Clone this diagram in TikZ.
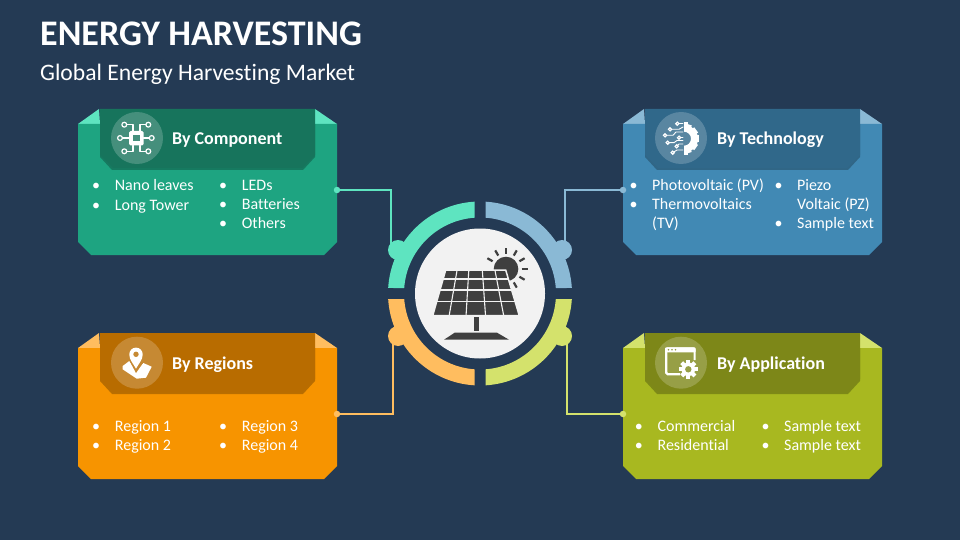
\documentclass[tikz,border=0pt]{standalone}
\usepackage{fontspec}
\setmainfont{Carlito}[Ligatures=CommonOff]
\usetikzlibrary{calc}
\definecolor{bgblue}{HTML}{243A54}
\definecolor{tealbody}{HTML}{1EA481}
\definecolor{tealhead}{HTML}{17745C}
\definecolor{teallight}{HTML}{5EE4C0}
\definecolor{bluebody}{HTML}{4189B4}
\definecolor{bluehead}{HTML}{30688A}
\definecolor{bluelight}{HTML}{8AB9D5}
\definecolor{orangebody}{HTML}{F79400}
\definecolor{orangehead}{HTML}{B86C00}
\definecolor{orangelight}{HTML}{FFBD5F}
\definecolor{greenbody}{HTML}{A8B820}
\definecolor{greenhead}{HTML}{7D8718}
\definecolor{greenlight}{HTML}{D4E26C}
\definecolor{paneldark}{HTML}{3F3F3F}
\definecolor{discwhite}{HTML}{F2F2F2}
\newcommand{\bul}{\makebox[22.7pt][l]{•}}
\begin{document}
\begin{tikzpicture}[x=1pt,y=-1pt,
	bigtitle/.style={anchor=base west,inner sep=0,text=white,font=\fontsize{36}{40}\selectfont\bfseries},
	subtitle/.style={anchor=base west,inner sep=0,text=white,font=\fontsize{23.6}{27}\selectfont},
	headtext/.style={anchor=base west,inner sep=0,text=white,font=\fontsize{18}{22}\selectfont\bfseries},
	item/.style={anchor=base west,inner sep=0,text=white,font=\fontsize{16}{19}\selectfont},
	conn/.style={line width=1.6pt},
	bump/.style={circle,minimum size=20pt,inner sep=0},
	enddot/.style={circle,minimum size=6.5pt,inner sep=0},
	iconline/.style={draw=white,line width=1.3pt,line cap=round,line join=round},
	tinyring/.style={draw=white,line width=1.2pt},
	ray/.style={draw=paneldark,line width=2.2pt}]
	\path[use as bounding box,fill=bgblue] (0,0) rectangle (960,540);

	%Titles
	\node[bigtitle] (maintitle) at (40,45.5) {ENERGY HARVESTING};
	\node[subtitle] (subhead) at (40,80.5) {Global Energy Harvesting Market};

	%Connectors
	\coordinate (compjoin) at (391,250);
	\coordinate (techjoin) at (565,250);
	\coordinate (regjoin) at (393,336);
	\coordinate (appjoin) at (567,336);
	\coordinate (compend) at (337,190);
	\coordinate (techend) at (623,190);
	\coordinate (regend) at (337,414);
	\coordinate (append) at (623,414);
	\draw[conn,teallight] (compend) -| (compjoin);
	\draw[conn,bluelight] (techend) -| (techjoin);
	\draw[conn,orangelight] (regend) -| (regjoin);
	\draw[conn,greenlight] (append) -| (appjoin);

	%Top left card
	\begin{scope}[shift={(0,0)}]
		\fill[teallight] (78,124) -- (99,109) -- (100,124) -- cycle;
		\fill[teallight] (315,109) -- (337,124) -- (315,124) -- cycle;
		\fill[tealbody] (78,124) -- (337,124) -- (337,242) -- (324,255) -- (91,255) -- (78,242) -- cycle;
		\fill[black,opacity=.25] (100,124) -- (315,124) -- (315,157) -- (303,170) -- (112,170) -- (100,157) -- cycle;
		\fill[tealhead] (100,109) -- (315,109) -- (315,155) -- (302,168) -- (113,168) -- (100,155) -- cycle;
	\end{scope}
	%Top right card
	\begin{scope}[shift={(545,0)}]
		\fill[bluelight] (78,124) -- (99,109) -- (100,124) -- cycle;
		\fill[bluelight] (315,109) -- (337,124) -- (315,124) -- cycle;
		\fill[bluebody] (78,124) -- (337,124) -- (337,242) -- (324,255) -- (91,255) -- (78,242) -- cycle;
		\fill[black,opacity=.25] (100,124) -- (315,124) -- (315,157) -- (303,170) -- (112,170) -- (100,157) -- cycle;
		\fill[bluehead] (100,109) -- (315,109) -- (315,155) -- (302,168) -- (113,168) -- (100,155) -- cycle;
	\end{scope}
	%Bottom left card
	\begin{scope}[shift={(0,224)}]
		\fill[orangelight] (78,124) -- (99,109) -- (100,124) -- cycle;
		\fill[orangelight] (315,109) -- (337,124) -- (315,124) -- cycle;
		\fill[orangebody] (78,124) -- (337,124) -- (337,242) -- (324,255) -- (91,255) -- (78,242) -- cycle;
		\fill[black,opacity=.25] (100,124) -- (315,124) -- (315,157) -- (303,170) -- (112,170) -- (100,157) -- cycle;
		\fill[orangehead] (100,109) -- (315,109) -- (315,155) -- (302,168) -- (113,168) -- (100,155) -- cycle;
	\end{scope}
	%Bottom right card
	\begin{scope}[shift={(545,224)}]
		\fill[greenlight] (78,124) -- (99,109) -- (100,124) -- cycle;
		\fill[greenlight] (315,109) -- (337,124) -- (315,124) -- cycle;
		\fill[greenbody] (78,124) -- (337,124) -- (337,242) -- (324,255) -- (91,255) -- (78,242) -- cycle;
		\fill[black,opacity=.25] (100,124) -- (315,124) -- (315,157) -- (303,170) -- (112,170) -- (100,157) -- cycle;
		\fill[greenhead] (100,109) -- (315,109) -- (315,155) -- (302,168) -- (113,168) -- (100,155) -- cycle;
	\end{scope}

	%Connector ends on the cards
	\node[enddot,fill=teallight] (compdot) at (compend) {};
	\node[enddot,fill=bluelight] (techdot) at (techend) {};
	\node[enddot,fill=orangelight] (regdot) at (regend) {};
	\node[enddot,fill=greenlight] (appdot) at (append) {};

	%Ring (y runs downwards, so angles count clockwise)
	\coordinate (ringc) at (480,293.5);
	\fill[teallight] ($(ringc)+(-93.43:92)$) arc (-93.43:-176.57:92) -- ($(ringc)+(-175.85:76)$) arc (-175.85:-94.15:76) -- cycle;
	\fill[bluelight] ($(ringc)+(-86.57:92)$) arc (-86.57:-3.43:92) -- ($(ringc)+(-4.15:76)$) arc (-4.15:-85.85:76) -- cycle;
	\fill[orangelight] ($(ringc)+(93.43:92)$) arc (93.43:176.57:92) -- ($(ringc)+(175.85:76)$) arc (175.85:94.15:76) -- cycle;
	\fill[greenlight] ($(ringc)+(86.57:92)$) arc (86.57:3.43:92) -- ($(ringc)+(4.15:76)$) arc (4.15:85.85:76) -- cycle;
	\node[bump,fill=teallight] (compbump) at (398,250) {};
	\node[bump,fill=bluelight] (techbump) at (562,250) {};
	\node[bump,fill=orangelight] (regbump) at (398,336) {};
	\node[bump,fill=greenlight] (appbump) at (562,336) {};

	%Solar panel
	\fill[discwhite] (ringc) circle (65);
	\fill[paneldark] (506,269) circle (12.3);
	\draw[ray] (506,269) ++(-30:15.5) -- ++(-30:6);
	\draw[ray] (506,269) ++(0:15.5) -- ++(0:6);
	\draw[ray] (506,269) ++(30:15.5) -- ++(30:6);
	\draw[ray] (506,269) ++(60:15.5) -- ++(60:6);
	\draw[ray] (506,269) ++(-60:15.5) -- ++(-60:6);
	\draw[ray] (506,269) ++(-90:15.5) -- ++(-90:6);
	\draw[ray] (506,269) ++(-120:15.5) -- ++(-120:6);
	\draw[ray] (506,269) ++(-150:15.5) -- ++(-150:6);
	\coordinate (paneltl) at (445.7,270);
	\coordinate (paneltr) at (505.7,270);
	\coordinate (panelbr) at (519.3,315.7);
	\coordinate (panelbl) at (432.7,315.7);
	\filldraw[fill=paneldark,draw=discwhite,line width=1.5pt] (paneltl) -- (paneltr) -- (panelbr) -- (panelbl) -- cycle;
	\foreach \t in {.197,.438,.693}
		\draw[discwhite,line width=1.1pt] ($(paneltl)!\t!(panelbl)$) -- ($(paneltr)!\t!(panelbr)$);
	\foreach \t in {.19,.385,.61,.82}
		\draw[discwhite,line width=1.1pt] ($(paneltl)!\t!(paneltr)$) -- ($(panelbl)!\t!(panelbr)$);
	\fill[paneldark] (474,317) rectangle (478.7,330.7);
	\fill[paneldark] (455,332.5) -- (496.7,332.5) -- (509,339.7) -- (444,339.7) -- cycle;

	%Head discs
	\fill[white,opacity=.2] (137,138) circle (26);
	\fill[white,opacity=.2] (681,138) circle (26);
	\fill[white,opacity=.2] (137,362.7) circle (26);
	\fill[white,opacity=.2] (681,362.7) circle (26);

	%Chip icon
	\fill[white,rounded corners=1.5pt] (129,131) rectangle (143.5,145.5);
	\fill[tealhead!80!white] (133,135) rectangle (139.5,141.5);
	\draw[iconline] (133,131) |- (126.5,124.7);
	\draw[iconline] (140,131) |- (146,124.7);
	\draw[iconline] (129,138) -- (122.5,138);
	\draw[iconline] (143.5,138) -- (149.5,138);
	\draw[iconline] (133,145.5) |- (126.5,151.3);
	\draw[iconline] (140,145.5) |- (146,151.3);
	\draw[tinyring] (124.3,124.7) circle (2.4);
	\draw[tinyring] (148.3,124.7) circle (2.4);
	\draw[tinyring] (120,138) circle (2.4);
	\draw[tinyring] (151.7,138) circle (2.4);
	\draw[tinyring] (124.3,151.3) circle (2.4);
	\draw[tinyring] (148.3,151.3) circle (2.4);

	%Gear and circuit icon
	\foreach \a in {-72,-36,0,36,72}
		\fill[white,rotate around={\a:(684,138.7)}] (696,135.5) rectangle (699,142);
	\fill[white] (684,124.7) arc (-90:90:14) -- (684,145.7) arc (90:-90:7) -- cycle;
	\fill[white] (684,122) rectangle (687.5,126);
	\fill[white] (684,151.5) rectangle (687.5,155);
	\draw[iconline,line width=.9pt] (677.3,123.7) -- (683,123.7);
	\draw[iconline,line width=.9pt] (670,129.3) -- (679,129.3) -- (683,127);
	\draw[iconline,line width=.9pt] (665,135.3) -- (673,135.3) -- (676,132) -- (683,132);
	\draw[iconline,line width=.9pt] (679,137.7) -- (683,137.7);
	\draw[iconline,line width=.9pt] (667.7,142.7) -- (674,142.7) -- (677,140.5) -- (683,140.5);
	\draw[iconline,line width=.9pt] (676.7,146.3) -- (679,144) -- (683,144);
	\draw[iconline,line width=.9pt] (672.7,152.7) -- (677,150) -- (683,150);
	\draw[tinyring,fill=bluehead!80!white] (677.3,123.7) circle (1.6);
	\draw[tinyring,fill=bluehead!80!white] (670,129.3) circle (1.6);
	\draw[tinyring,fill=bluehead!80!white] (665,135.3) circle (1.6);
	\draw[tinyring,fill=bluehead!80!white] (679,137.7) circle (1.6);
	\draw[tinyring,fill=bluehead!80!white] (667.7,142.7) circle (1.6);
	\draw[tinyring,fill=bluehead!80!white] (676.7,146.3) circle (1.6);
	\draw[tinyring,fill=bluehead!80!white] (672.7,152.7) circle (1.6);

	%Location icon
	\fill[white] (122.7,366) -- (129.3,361) -- (136,371) -- (143.3,363) -- (151.7,366.7) -- (146,377.7) -- (136.7,378.7) -- (122.7,369.3) -- cycle;
	\fill[orangehead!80!white] (128,358) -- (136,373) -- (145,360) -- cycle;
	\fill[white] (136,368.7) .. controls (133,363) and (129.3,360) .. (129.3,354.3) arc (180:360:6.7) .. controls (142.7,360) and (139,363) .. (136,368.7) -- cycle;
	\fill[orangehead!80!white] (136,354.3) circle (2.7);

	%Window icon
	\draw[white,line width=2.2pt,rounded corners=1.5pt] (694.6,360) -- (694.6,348.5) -- (666.2,348.5) -- (666.2,374.2) -- (680,374.2);
	\fill[white,rounded corners=1pt] (665,347.3) rectangle (695.7,352.3);
	\fill[greenhead!80!white] (668.5,349.8) circle (.9) (672,349.8) circle (.9) (675.5,349.8) circle (.9);
	\foreach \a in {0,45,...,315}
		\fill[white,rotate around={\a:(688.3,369.3)}] (686.2,360) rectangle (690.4,364);
	\fill[white] (688.3,369.3) circle (6.8);
	\fill[greenhead!80!white] (688.3,369.3) circle (3.2);

	%Head labels
	\node[headtext] (comphead) at (172,145) {By Component};
	\node[headtext] (techhead) at (717,145) {By Technology};
	\node[headtext] (reghead) at (172,369) {By Regions};
	\node[headtext] (apphead) at (717,369) {By Application};

	%Top left list
	\node[item] (nano) at (92,190.5) {\bul Nano leaves};
	\node[item] (tower) at (92,210) {\bul Long Tower};
	\node[item] (leds) at (219,190) {\bul LEDs};
	\node[item] (batt) at (219,209.5) {\bul Batteries};
	\node[item] (others) at (219,228.5) {\bul Others};
	%Top right list
	\node[item] (pv) at (629.3,190) {\bul Photovoltaic (PV)};
	\node[item] (thermo) at (629.3,209.5) {\bul Thermovoltaics};
	\node[item] (tv) at (652,228.5) {(TV)};
	\node[item] (piezo) at (774.3,190) {\bul Piezo};
	\node[item] (pz) at (797,209.5) {Voltaic (PZ)};
	\node[item] (sample) at (774.3,228.5) {\bul Sample text};
	%Bottom left list
	\node[item] (regone) at (92,431) {\bul Region 1};
	\node[item] (regtwo) at (92,450) {\bul Region 2};
	\node[item] (regthree) at (219,431) {\bul Region 3};
	\node[item] (regfour) at (219,450) {\bul Region 4};
	%Bottom right list
	\node[item] (comm) at (634.7,431) {\bul Commercial};
	\node[item] (resi) at (634.7,450) {\bul Residential};
	\node[item] (sampleb) at (761.3,431) {\bul Sample text};
	\node[item] (samplec) at (761.3,450) {\bul Sample text};
\end{tikzpicture}
\end{document}
